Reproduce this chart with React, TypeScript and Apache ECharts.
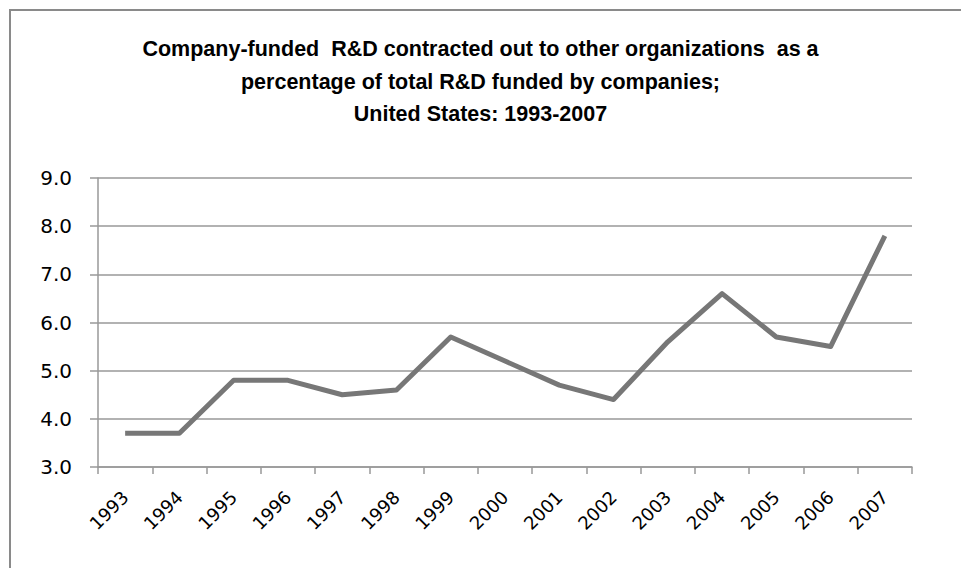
import React, { useEffect, useRef } from "react";
import * as echarts from "echarts";

const years: string[] = ["1993", "1994", "1995", "1996", "1997", "1998", "1999", "2000", "2001", "2002", "2003", "2004", "2005", "2006", "2007"];
const shares: number[] = [3.7, 3.7, 4.8, 4.8, 4.5, 4.6, 5.7, 5.2, 4.7, 4.4, 5.6, 6.6, 5.7, 5.5, 7.8];
const titleLines: string[] = [
  "Company-funded  R&D contracted out to other organizations  as a",
  "percentage of total R&D funded by companies;",
  "United States: 1993-2007",
];

export default function App() {
  const ref = useRef<HTMLDivElement>(null);
  useEffect(() => {
    if (!ref.current) return;
    const chart = echarts.init(ref.current, null, { renderer: "svg" });
    chart.setOption({
      animation: false,
      backgroundColor: "#ffffff",
      graphic: [
        {
          type: "rect",
          shape: { x: 10, y: 10, width: 960, height: 570 },
          style: { fill: "none", stroke: "#8a8a8a", lineWidth: 2 },
          silent: true,
        },
      ],
      title: {
        text: titleLines.join("\n"),
        left: "center",
        top: 33,
        padding: 0,
        textStyle: {
          fontFamily: "'Liberation Sans', sans-serif",
          fontSize: 21.5,
          fontWeight: "bold",
          color: "#000",
          lineHeight: 32.5,
        },
      },
      grid: { left: 98, right: 49, top: 178, bottom: 101, containLabel: false },
      xAxis: {
        type: "category",
        data: years,
        boundaryGap: true,
        axisLine: { show: true, lineStyle: { color: "#999", width: 1.5 } },
        axisTick: { show: true, length: 7, alignWithLabel: false, lineStyle: { color: "#999", width: 1.5 } },
        axisLabel: {
          rotate: 45,
          margin: 27,
          fontFamily: "'DejaVu Sans', sans-serif",
          fontSize: 18,
          color: "#000",
          interval: 0,
        },
        splitLine: { show: false },
      },
      yAxis: {
        type: "value",
        min: 3,
        max: 9,
        interval: 1,
        axisLine: { show: true, lineStyle: { color: "#999", width: 1.5 } },
        axisTick: { show: true, length: 8, inside: false, lineStyle: { color: "#999", width: 1.5 } },
        axisLabel: {
          margin: 26,
          fontFamily: "'DejaVu Sans', sans-serif",
          fontSize: 20,
          color: "#000",
          formatter: (v: number) => v.toFixed(1),
        },
        splitLine: { show: true, lineStyle: { color: "#999", width: 1.5 } },
      },
      series: [
        {
          type: "line",
          data: shares,
          symbol: "none",
          lineStyle: { color: "#777777", width: 5, join: "round" },
          itemStyle: { color: "#777777" },
        },
      ],
    });
    return () => chart.dispose();
  }, []);
  return <div ref={ref} style={{ position: "fixed", left: 0, top: 0, width: 961, height: 568 }} />;
}
